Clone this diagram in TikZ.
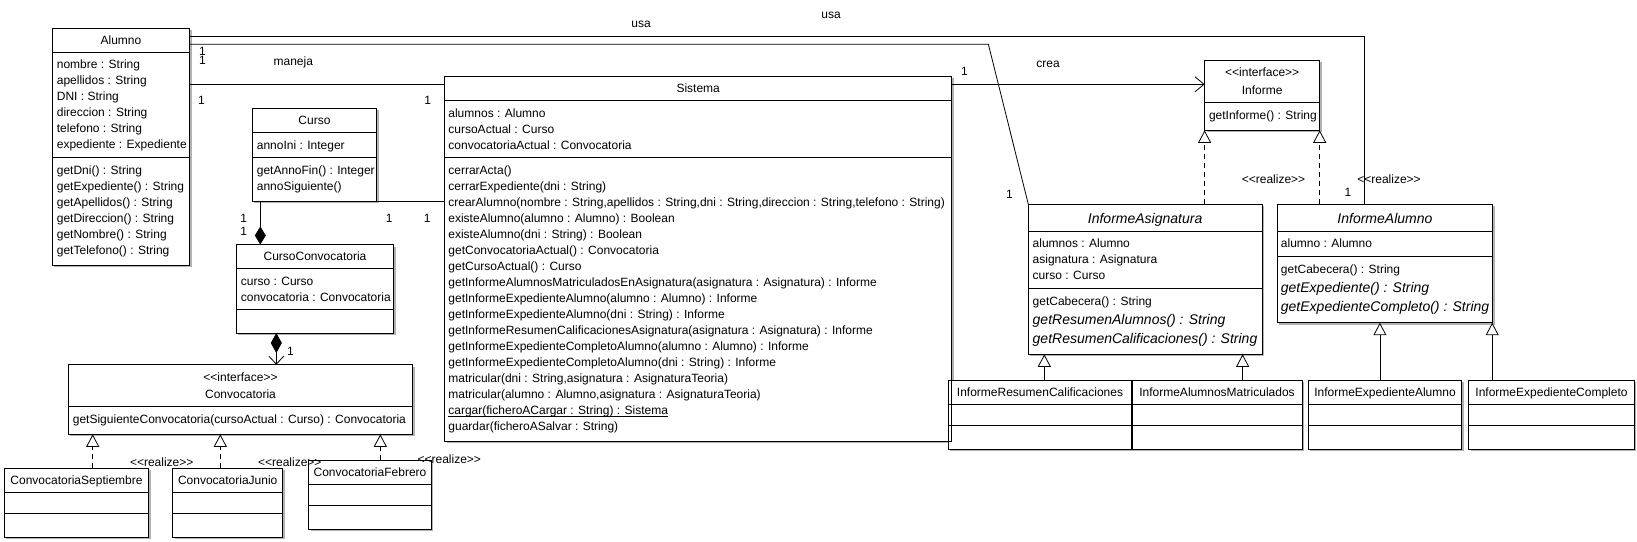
\documentclass[tikz,border=0pt]{standalone}
\usepackage{fontspec}
\newfontfamily\umlfont{Liberation Sans}
\usetikzlibrary{arrows.meta,shadows}
\tikzset{
  ln/.style={line width=0.8pt},
  box/.style={draw, ln, fill=white, inner sep=0pt, outer sep=0pt,
    drop shadow={shadow xshift=2pt, shadow yshift=-2pt, fill=black!30, opacity=1}},
  tx/.style={font=\umlfont\fontsize{12}{14}\selectfont, inner sep=0pt, anchor=base west},
  tc/.style={font=\umlfont\fontsize{12}{14}\selectfont, inner sep=0pt, anchor=base},
  ti/.style={font=\umlfont\itshape\fontsize{14}{16}\selectfont, inner sep=0pt, anchor=base west},
  tic/.style={font=\umlfont\itshape\fontsize{14}{16}\selectfont, inner sep=0pt, anchor=base},
  lb/.style={font=\umlfont\fontsize{12}{14}\selectfont, inner sep=0pt},
  real/.style={ln, dash pattern=on 5pt off 4pt, -{Triangle[length=12.5pt,width=13pt,fill=white]}},
  gen/.style={ln, -{Triangle[length=12.5pt,width=13pt,fill=white]}},
}
\newcommand\umlbox[6]{%
  \node[box, minimum width={#4-#2}, minimum height={#5-#3}] (#1) at ({(#2+#4)/2},{(#3+#5)/2}) {};
  \foreach \sy in {#6} \draw[ln] (#2,\sy) -- (#4,\sy);
}
\newcommand\tl[5][tx]{\foreach \tline [count=\i] in {#5} \node[#1] (#2\i) at (#3,{#4+16*(\i-1)}) {\tline};}
\begin{document}
\begin{tikzpicture}[x=1pt,y=-1pt]
\useasboundingbox (0,0) rectangle (1637,541);

% ---------- boxes ----------
\umlbox{alumno}{52.3}{28.3}{189.7}{265.3}{52.3,157.3}
\umlbox{curso}{252.3}{108.3}{376.7}{201.3}{132.3,157.3}
\umlbox{cc}{236.3}{244.5}{393.7}{333}{268.7,309.3}
\umlbox{conv}{68.3}{364.7}{412.7}{434.3}{406.3}
\umlbox{cs}{4.3}{468}{148.7}{537.3}{492.7,513.7}
\umlbox{cj}{172.7}{468}{282.7}{537.3}{492.7,513.7}
\umlbox{cf}{308.7}{460}{431.3}{529.3}{484.7,505.7}
\umlbox{sis}{444.6}{76.3}{951.8}{441}{100.3,157.3}
\umlbox{inf}{1204.6}{60.3}{1319.7}{130.3}{102.3}
\umlbox{ias}{1028.3}{204.3}{1261.9}{354.3}{231.7,288.3}
\umlbox{ial}{1277}{204.3}{1492.7}{322.7}{231.7,256.3}
\umlbox{irc}{948.4}{380.3}{1131.7}{449.3}{404.3,425.7}
\umlbox{iam}{1132.2}{380.3}{1301.9}{449.3}{404.3,425.7}
\umlbox{iea}{1308.4}{380.3}{1461.7}{449.3}{404.3,425.7}
\umlbox{iec}{1468.7}{380.3}{1634.2}{449.3}{404.3,425.7}
\draw[ln] (sis.north west) rectangle (sis.south east);

% ---------- named points ----------
\coordinate (a2) at (1364.4,36.3);
\coordinate (b2) at (988.4,44.3);
\coordinate (m) at (300,84.3);
\coordinate (k1) at (260.3,220);
\coordinate (k2) at (276.3,350);
\coordinate (r1) at (92.7,450);
\coordinate (r2) at (220.3,450);
\coordinate (r3) at (380.3,450);
\coordinate (g1) at (1044.3,370);
\coordinate (g2) at (1242.6,370);
\coordinate (g3) at (1379.9,360);
\coordinate (g4) at (1492.2,360);

% ---------- connectors ----------
\draw[ln] (alumno.east |- a2) -- (a2) -- (ial.north -| a2);
\draw[ln] (alumno.east |- b2) -- (b2) -- (ias.north west);
\draw[ln] (alumno.east |- m) -- (sis.west |- m);
\draw[ln] (curso.south east) -- (sis.west |- curso.south);
\draw[ln, -{Straight Barb[length=9pt,width=15pt]}] (sis.east |- m) -- (inf.west |- m);
\draw[ln, -{Diamond[length=18pt,width=11pt]}] (curso.south -| k1) -- (cc.north -| k1);
\draw[ln, {Diamond[length=20pt,width=11pt]}-{Straight Barb[length=8pt,width=15pt]}] (cc.south -| k2) -- (conv.north -| k2);
\draw[real] (cs.north -| r1) -- (conv.south -| r1);
\draw[real] (cj.north -| r2) -- (conv.south -| r2);
\draw[real] (cf.north -| r3) -- (conv.south -| r3);
\draw[real] (ias.north -| inf.south west) -- (inf.south west);
\draw[real] (ial.north -| inf.south east) -- (inf.south east);
\draw[gen] (irc.north -| g1) -- (ias.south -| g1);
\draw[gen] (iam.north -| g2) -- (ias.south -| g2);
\draw[gen] (iea.north -| g3) -- (ial.south -| g3);
\draw[gen] (iec.north -| g4) -- (ial.south -| g4);

% ---------- connector labels ----------
\node[lb] (usa1) at (641,24) {usa};
\node[lb] (usa2) at (831,15.7) {usa};
\node[lb] (maneja) at (293.3,62.5) {maneja};
\node[lb] (crea) at (1048,64) {crea};
\node[lb] (m1) at (202.5,51) {1};
\node[lb] (m2) at (202.5,60) {1};
\node[lb] (m3) at (201.5,100.7) {1};
\node[lb] (m4) at (427.7,100.7) {1};
\node[lb] (m5) at (389.3,218.7) {1};
\node[lb] (m6) at (427.3,218.7) {1};
\node[lb] (m7) at (243.7,218.7) {1};
\node[lb] (m8) at (243.7,231.3) {1};
\node[lb] (m9) at (290.5,351.7) {1};
\node[lb] (m10) at (964.4,71.7) {1};
\node[lb] (m11) at (1009.5,194) {1};
\node[lb] (m12) at (1348,192) {1};
\node[lb] (re1) at (161.7,462.7) {<<realize>>};
\node[lb] (re2) at (289.8,462.7) {<<realize>>};
\node[lb] (re3) at (449.3,459.3) {<<realize>>};
\node[lb] (re4) at (1273.5,179) {<<realize>>};
\node[lb] (re5) at (1389,179) {<<realize>>};

% ---------- class texts ----------
\node[tc] (alumnoT) at (121,44) {Alumno};
\tl{alA}{56.7}{68.6}{nombre : String, apellidos : String, DNI : String, direccion : String, telefono : String, expediente : Expediente}
\tl{alM}{56.7}{174}{getDni() : String, getExpediente() : String, getApellidos() : String, getDireccion() : String, getNombre() : String, getTelefono() : String}

\node[tc] (cursoT) at (314.5,124) {Curso};
\tl{cuA}{256.7}{149}{annoIni : Integer}
\tl{cuM}{256.7}{174}{getAnnoFin() : Integer, annoSiguiente()}

\node[tc] (ccT) at (315,260) {CursoConvocatoria};
\tl{ccA}{240.7}{285}{curso : Curso, convocatoria : Convocatoria}

\node[tc] (convS) at (240.5,381) {<<interface>>};
\node[tc] (convT) at (240.5,398) {Convocatoria};
\tl{coM}{72.7}{423.3}{getSiguienteConvocatoria(cursoActual : Curso) : Convocatoria}

\node[tc] (csT) at (76.5,484) {ConvocatoriaSeptiembre};
\node[tc] (cjT) at (227.7,484) {ConvocatoriaJunio};
\node[tc] (cfT) at (370,476) {ConvocatoriaFebrero};

\node[tc] (sisT) at (698.2,92.3) {Sistema};
\tl{siA}{448.2}{117}{alumnos : Alumno, cursoActual : Curso, convocatoriaActual : Convocatoria}
\tl{siM}{448.2}{174.6}{cerrarActa(), cerrarExpediente(dni : String), {crearAlumno(nombre : String,apellidos : String,dni : String,direccion : String,telefono : String)}, existeAlumno(alumno : Alumno) : Boolean, existeAlumno(dni : String) : Boolean, getConvocatoriaActual() : Convocatoria, getCursoActual() : Curso, getInformeAlumnosMatriculadosEnAsignatura(asignatura : Asignatura) : Informe, getInformeExpedienteAlumno(alumno : Alumno) : Informe, getInformeExpedienteAlumno(dni : String) : Informe, getInformeResumenCalificacionesAsignatura(asignatura : Asignatura) : Informe, getInformeExpedienteCompletoAlumno(alumno : Alumno) : Informe, getInformeExpedienteCompletoAlumno(dni : String) : Informe, {matricular(dni : String,asignatura : AsignaturaTeoria)}, {matricular(alumno : Alumno,asignatura : AsignaturaTeoria)}, cargar(ficheroACargar : String) : Sistema, guardar(ficheroASalvar : String)}
\draw[line width=0.6pt] ([yshift=-2pt]siM16.base west) -- ([yshift=-2pt]siM16.base east);

\node[tc] (infS) at (1262.2,76.6) {<<interface>>};
\node[tc] (infT) at (1262.2,94) {Informe};
\tl{inM}{1208.8}{119.3}{getInforme() : String}

\node[tic] (iasT) at (1145.1,223.7) {InformeAsignatura};
\tl{iaA}{1032.5}{247.6}{alumnos : Alumno, asignatura : Asignatura, curso : Curso}
\node[tx] (iaM1) at (1032.5,305) {getCabecera() : String};
\node[ti] (iaM2) at (1032.5,324.3) {getResumenAlumnos() : String};
\node[ti] (iaM3) at (1032.5,343.7) {getResumenCalificaciones() : String};

\node[tic] (ialT) at (1384.9,223.7) {InformeAlumno};
\node[tx] (ilA1) at (1280.7,247.6) {alumno : Alumno};
\node[tx] (ilM1) at (1280.7,273) {getCabecera() : String};
\node[ti] (ilM2) at (1280.7,292.3) {getExpediente() : String};
\node[ti] (ilM3) at (1280.7,311.7) {getExpedienteCompleto() : String};

\node[tc] (ircT) at (1040,396) {InformeResumenCalificaciones};
\node[tc] (iamT) at (1217,396) {InformeAlumnosMatriculados};
\node[tc] (ieaT) at (1385,396) {InformeExpedienteAlumno};
\node[tc] (iecT) at (1551.5,396) {InformeExpedienteCompleto};
\end{tikzpicture}
\end{document}
